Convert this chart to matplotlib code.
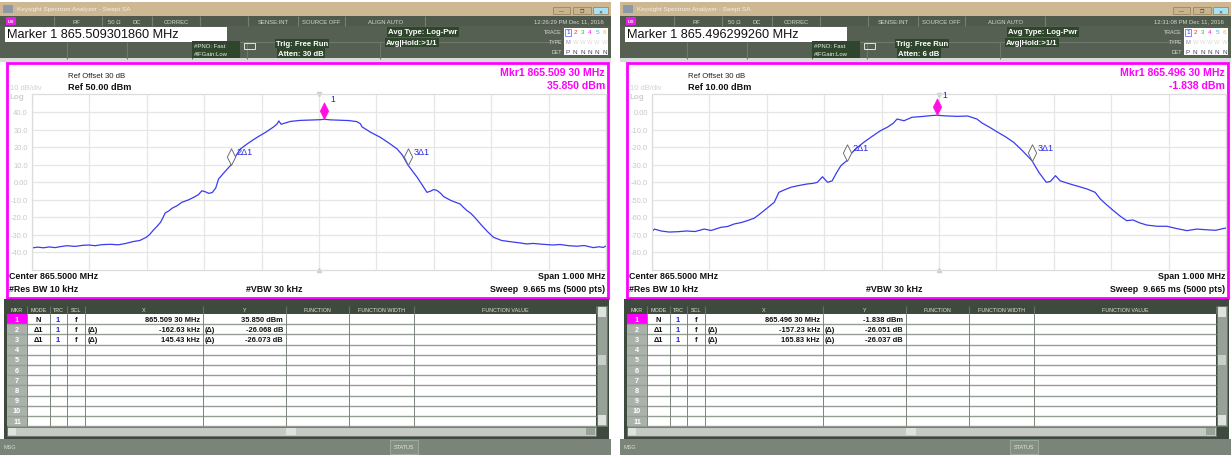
import matplotlib
matplotlib.use("Agg")
import matplotlib.pyplot as plt
from matplotlib.patches import Rectangle
from matplotlib.path import Path

plt.rcParams['font.family'] = ['Liberation Sans', 'DejaVu Sans']

W, H = 1231, 456

# trace 1 of each sweep: offset from center (kHz) and level (dBm)
left_khz = [-500, -490, -480, -470, -460, -450, -439, -425, -412, -401, -390, -378, -363, -350, -338,
            -323, -312, -301, -295, -288, -282, -276, -272, -268, -262, -256, -247, -239, -228, -218,
            -210, -204, -198, -192, -186, -180, -175, -165, -153.3, -145, -137, -122, -108, -93, -79,
            -73, -70, -66, -62, -50, -33, -15, 2, 9.3, 20, 37, 52, 66, 72, 75, 90, 107, 122, 136, 145,
            154.7, 163, 171, 180, 188, 194, 199, 204, 208, 212, 217, 230, 246, 252, 258, 264, 269, 276,
            284, 294, 304, 318, 333, 350, 362, 373, 390, 408, 420, 435, 449, 462, 478, 488, 495, 500]
left_dbm = [-37.7, -37.2, -37.6, -37.1, -37.5, -36.9, -36.4, -36.8, -36.2, -36.0, -36.4, -35.8, -35.6,
            -35.9, -35.2, -34.0, -33.4, -31.6, -30.0, -27.3, -25.3, -23.0, -20.5, -17.7, -16.6, -15.0,
            -13.5, -11.6, -10.3, -8.7, -7.2, -5.0, -5.6, -6.5, -6.0, -3.5, 1.7, 5.5, 9.78, 14.8, 18.9,
            22.5, 25.5, 28.4, 31.5, 33.2, 34.9, 33.0, 33.4, 34.6, 35.2, 35.4, 35.6, 35.85, 35.5, 35.3,
            35.1, 34.5, 33.3, 31.5, 28.4, 25.5, 22.2, 18.9, 15.5, 9.78, 6.2, 2.7, -1.8, -5.9, -5.3,
            -4.4, -4.6, -5.4, -6.5, -8.3, -10.6, -12.6, -14.6, -16.4, -17.8, -19.4, -22.0, -25.0,
            -28.5, -31.6, -33.4, -34.1, -34.8, -35.4, -35.1, -35.6, -36.0, -35.7, -36.4, -36.7,
            -36.3, -37.5, -37.0, -37.4, -36.6]

right_khz = [-500, -496, -484, -470, -455, -440, -425, -409, -397, -380, -368, -357, -345, -334, -322,
             -313, -305, -296, -287, -279, -270, -258, -244, -229, -220, -212, -203, -194, -186, -179,
             -171, -160.9, -154, -143, -131, -116, -102, -90, -80, -73, -61, -47, -30, -15, -3.7, 10,
             32, 50, 66, 75, 88, 101, 116, 130, 145, 162.1, 174, 187, 194, 203, 211, 223, 234, 246,
             258, 272, 281, 292, 304, 316, 327, 338, 350, 362, 380, 397, 414, 432, 449, 466, 482, 495, 500]
right_dbm = [-68.4, -66.9, -68.0, -68.6, -68.4, -68.0, -68.3, -66.9, -67.7, -65.9, -65.4, -64.0, -63.2,
             -62.1, -60.7, -58.5, -56.4, -54.0, -51.6, -45.9, -44.6, -43.0, -42.0, -41.1, -40.8, -40.2,
             -37.0, -40.2, -39.3, -35.0, -30.7, -27.889, -24.0, -20.5, -17.3, -13.8, -10.7, -8.7, -6.5,
             -4.0, -5.0, -3.0, -2.6, -2.1, -1.838, -2.2, -2.5, -2.3, -4.0, -6.3, -8.7, -11.3, -14.2,
             -17.3, -22.0, -27.875, -34.5, -40.2, -39.7, -36.4, -39.3, -40.6, -41.7, -42.8, -44.0,
             -45.9, -49.7, -53.0, -56.4, -59.6, -62.1, -61.7, -63.4, -64.6, -65.3, -65.3, -66.6,
             -67.8, -66.9, -67.3, -67.6, -66.6, -66.3]

traces_khz = [left_khz, right_khz]
traces_dbm = [left_dbm, right_dbm]

# instrument state for the two screens
ref_level = [50, 10]
atten = ["30 dB", "6 dB"]
clock = ["12:26:29 PM Dec 11, 2016", "12:31:08 PM Dec 11, 2016"]
marker_active = ["865.509301860", "865.496299260"]
mkr1_mhz = [865.50930, 865.49630]
mkr1_dbm = [35.850, -1.838]
delta_khz = [[-162.63, 145.43], [-157.23, 165.83]]
delta_db = [[-26.068, -26.073], [-26.051, -26.037]]
center_mhz = 865.5

fig = plt.figure(figsize=(W / 100, H / 100), dpi=100)
ui = fig.add_axes([0, 0, 1, 1])
ui.set_xlim(0, W)
ui.set_ylim(H, 0)
ui.axis('off')


def box(x, y, w, h, fc, ec="none", lw=0, z=1):
    ui.add_patch(Rectangle((x, y), w, h, facecolor=fc, edgecolor=ec, linewidth=lw, zorder=z))


def line(x1, y1, x2, y2, c, lw=0.8, z=2):
    ui.plot([x1, x2], [y1, y2], color=c, lw=lw, zorder=z, solid_capstyle='butt')


def txt(x, y, s, size=5, color="black", ha="left", weight="normal", z=3, **kw):
    ui.text(x, y, s, fontsize=size, color=color, ha=ha, va="center", fontweight=weight, zorder=z, **kw)


def mhz_text(v):
    s = "%.5f" % v
    return s[:-2] + " " + s[-2:]


# diamond with its lower tip on the data point
diamond = Path([(0, 0), (0.5, 1), (0, 2), (-0.5, 1), (0, 0)],
               [Path.MOVETO, Path.LINETO, Path.LINETO, Path.LINETO, Path.CLOSEPOLY])

dark_green = "#2f452c"


def draw_panel(i, x0):
    # window title bar
    box(x0, 3, 611, 14, "#cdb893")
    box(x0 + 3, 6, 10, 8, "#8d99a6")
    txt(x0 + 17, 10, "Keysight Spectrum Analyzer - Swept SA", 4.6, "#f5efe4")
    for bx, bw, c in [(553, 17, "#c9b48e"), (573, 18, "#c9b48e"), (593, 15, "#a6e2f2")]:
        box(x0 + bx, 8, bw, 7, c, "#9a8866", 0.6, z=2)
    txt(x0 + 561, 11.5, "—", 3.5, "#4a4030", "center")
    txt(x0 + 582, 11.5, "❐", 3.5, "#4a4030", "center")
    txt(x0 + 600, 11.5, "✕", 3.5, "#304050", "center")

    # status line
    box(x0, 17, 611, 10, "#4f5a4c")
    box(x0 + 6, 18, 10, 8, "#e81ee8")
    txt(x0 + 11, 22, "LXI", 3, "white", "center", "bold")
    for dx in [54, 102, 152, 200, 248, 298, 345, 425]:
        line(x0 + dx, 17, x0 + dx, 27, "#75806f")
    for dx, s in [(76, "RF"), (114, "50 Ω"), (137, "DC"), (176, "CORREC"), (273, "SENSE:INT"),
                  (321, "SOURCE OFF"), (385, "ALIGN AUTO")]:
        txt(x0 + dx, 22, s, 4.2, "#cfd6cc", "center")
    txt(x0 + 604, 22, clock[i], 4.2, "#cfd6cc", "right")

    # active marker and settings block
    box(x0, 27, 611, 33, "#555f52")
    for dx in [67, 127, 192, 247, 380]:
        line(x0 + dx, 43, x0 + dx, 60, "#6d776a")
    line(x0 + 230, 43, x0 + 560, 43, "#6d776a")
    box(x0 + 5, 28, 222, 15, "white", z=2)
    txt(x0 + 7, 35.5, "Marker 1 %s MHz" % marker_active[i], 9.2, "#111111")
    box(x0 + 192, 42, 48, 17, dark_green, z=2)
    txt(x0 + 194, 47, "#PNO: Fast", 4.3, "#e8eee6")
    txt(x0 + 194, 55, "#IFGain:Low", 4.3, "#e8eee6")
    box(x0 + 244, 44, 11, 6, "none", "#e0e6de", 0.7, z=2)
    bb = dict(boxstyle="square,pad=0.15", fc=dark_green, ec="none")
    txt(x0 + 276, 44.5, "Trig: Free Run", 5.6, "white", weight="bold", bbox=bb)
    txt(x0 + 278, 54, "Atten: %s" % atten[i], 5.6, "white", weight="bold", bbox=bb)
    txt(x0 + 388, 33, "Avg Type: Log-Pwr", 5.6, "white", weight="bold", bbox=bb)
    txt(x0 + 386, 43.5, "Avg|Hold:>1/1", 5.6, "white", weight="bold", bbox=bb)

    # trace / type / detector box
    box(x0 + 564, 29, 44, 27, "white", z=2)
    txt(x0 + 562, 33, "TRACE", 3.8, "#d6dcd4", "right")
    txt(x0 + 562, 42.5, "TYPE", 3.8, "#d6dcd4", "right")
    txt(x0 + 562, 52, "DET", 3.8, "#d6dcd4", "right")
    cols = ["#2c2cff", "#ff2c2c", "#22c022", "#e020e0", "#20c0e0", "#e8c020"]
    for k in range(6):
        txt(x0 + 568 + k * 7.3, 33, str(k + 1), 4.6, cols[k], "center")
        txt(x0 + 568 + k * 7.3, 42.5, "M" if k == 0 else "W", 4.2,
            "#9a8aa8" if k == 0 else "#dadada", "center")
        txt(x0 + 568 + k * 7.3, 52, "P" if k == 0 else "N", 4.6, "#4a4468", "center")
    box(x0 + 565, 29.5, 6, 7, "none", "#7070ff", 0.6, z=4)

    # display frame
    box(x0, 59, 611, 4, "#d9ddd9")
    box(x0 + 7, 64, 601, 235, "white", "#ff00ff", 2)

    ref = ref_level[i]
    txt(x0 + 68, 76, "Ref Offset 30 dB", 5.6, "#222222")
    txt(x0 + 68, 88, "Ref %.2f dBm" % ref, 6.6, "#111111", weight="bold")
    txt(x0 + 10, 89, "10 dB/div", 5.4, "#d0d0d0")
    txt(x0 + 10, 97.5, "Log", 5.8, "#d0d0d0", weight="bold")
    txt(x0 + 605, 73, "Mkr1 %s MHz" % mhz_text(mkr1_mhz[i]), 7.6, "#ff00ff", "right", "bold")
    txt(x0 + 605, 86, "%.3f dBm" % mkr1_dbm[i], 7.6, "#ff00ff", "right", "bold")

    txt(x0 + 9, 277, "Center %.4f MHz" % center_mhz, 6.4, "#111111", weight="bold")
    txt(x0 + 9, 290, "#Res BW 10 kHz", 6.4, "#111111", weight="bold")
    txt(x0 + 274, 290, "#VBW 30 kHz", 6.4, "#111111", "center", "bold")
    txt(x0 + 605, 277, "Span 1.000 MHz", 6.4, "#111111", "right", "bold")
    txt(x0 + 605, 290, "Sweep  9.665 ms (5000 pts)", 6.4, "#111111", "right", "bold")

    # graticule
    gx, gy, gw, gh = x0 + 32, 95.5, 574, 175
    ax = fig.add_axes([gx / W, 1 - (gy + gh) / H, gw / W, gh / H])
    ax.set_xlim(-500, 500)
    ax.set_ylim(ref - 100, ref)
    ax.set_xticks(range(-500, 501, 100))
    ax.set_xticklabels([])
    yt = list(range(ref - 90, ref, 10))
    ax.set_yticks(yt)
    ax.set_yticklabels(["0.00" if v == 0 else "%.1f" % v for v in yt])
    ax.tick_params(length=0, labelsize=5.4, labelcolor="#c8c8c8", pad=3)
    ax.grid(True, color="#e6e6e6", lw=0.9)
    for sp in ax.spines.values():
        sp.set_color("#dcdcdc")
        sp.set_linewidth(0.9)
    ax.plot([0], [ref], marker="v", ms=3, color="#d0d0d0", clip_on=False)
    ax.plot([0], [ref - 100], marker="^", ms=3, color="#d0d0d0", clip_on=False)
    ax.plot(traces_khz[i], traces_dbm[i], color="#3b3bf0", lw=0.9)

    # markers
    m1 = (mkr1_mhz[i] - center_mhz) * 1000
    ax.plot([m1], [mkr1_dbm[i]], marker=diamond, ms=24, mfc="#ff10e0", mec="#ff10e0",
            mew=0.5, clip_on=False, zorder=5)
    ax.annotate("1", (m1, mkr1_dbm[i]), xytext=(4, 13), textcoords="offset points",
                fontsize=6.2, color="#2020c8", zorder=6)
    for k in range(2):
        fx = m1 + delta_khz[i][k]
        fy = mkr1_dbm[i] + delta_db[i][k]
        ax.plot([fx], [fy], marker=diamond, ms=24, mfc="white", mec="#707070",
                mew=0.7, clip_on=False, zorder=5)
        ax.annotate("%dΔ1" % (k + 2), (fx, fy), xytext=(4, 8), textcoords="offset points",
                    fontsize=6.6, color="#2a2ae0", zorder=6)

    # marker table
    box(x0 + 4, 300, 605, 140, "#3f4a3f")
    cx = [7, 27, 50, 66.7, 85, 202.7, 286, 349.3, 414.3, 596]
    heads = ["MKR", "MODE", "TRC", "SCL", "X", "Y", "FUNCTION", "FUNCTION WIDTH", "FUNCTION VALUE"]
    for k in range(9):
        txt(x0 + (cx[k] + cx[k + 1]) / 2, 311, heads[k], 3.9, "#dfe6d2", "center")
        line(x0 + cx[k + 1], 307, x0 + cx[k + 1], 315, "#667064")
    rh = 10.2
    for r in range(11):
        y = 315 + r * rh
        box(x0 + 27, y, 569, rh, "white", z=1)
        box(x0 + 7, y, 20, rh, "#ff00ff" if r == 0 else "#aab2aa", z=1)
        txt(x0 + 17, y + rh / 2, str(r + 1), 5.2, "white", "center", "bold")
        line(x0 + 7, y + rh, x0 + 596, y + rh, "#949e94", 1.0)
    for k in range(1, 9):
        line(x0 + cx[k], 315, x0 + cx[k], 315 + 11 * rh, "#7b857b", 0.7)

    ys = [315 + rh / 2 + r * rh for r in range(3)]
    txt(x0 + 38, ys[0], "N", 5.4, "#111111", "center", "bold")
    txt(x0 + 58, ys[0], "1", 5.4, "#2020e0", "center", "bold")
    txt(x0 + 76, ys[0], "f", 5.4, "#111111", "center", "bold")
    txt(x0 + 200, ys[0], "%s MHz" % mhz_text(mkr1_mhz[i]), 5.4, "#111111", "right", "bold")
    txt(x0 + 283, ys[0], "%.3f dBm" % mkr1_dbm[i], 5.4, "#111111", "right", "bold")
    for k in range(2):
        y = ys[k + 1]
        txt(x0 + 38, y, "Δ1", 5.4, "#111111", "center", "bold")
        txt(x0 + 58, y, "1", 5.4, "#2020e0", "center", "bold")
        txt(x0 + 76, y, "f", 5.4, "#111111", "center", "bold")
        txt(x0 + 88, y, "(Δ)", 5.4, "#111111", weight="bold")
        txt(x0 + 200, y, "%.2f kHz" % delta_khz[i][k], 5.4, "#111111", "right", "bold")
        txt(x0 + 205, y, "(Δ)", 5.4, "#111111", weight="bold")
        txt(x0 + 283, y, "%.3f dB" % delta_db[i][k], 5.4, "#111111", "right", "bold")

    # scroll bars
    box(x0 + 7, 428, 589, 9, "#c5cac5", "#6a746a", 0.6)
    box(x0 + 8, 429, 8, 7, "#dfe3df", z=2)
    box(x0 + 286, 429, 10, 7, "#dfe3df", z=2)
    box(x0 + 586, 429, 9, 7, "#9aa39a", z=2)
    box(x0 + 597, 307, 10, 120, "#97a197", "#6a746a", 0.6)
    box(x0 + 598, 308, 8, 10, "#dfe3df", z=2)
    box(x0 + 598, 356, 8, 10, "#c8cec8", z=2)
    box(x0 + 598, 416, 8, 10, "#dfe3df", z=2)

    # message bar
    box(x0, 440, 611, 16, "#7a8478")
    txt(x0 + 3, 448, "MSG", 4.0, "#d8ddd6")
    box(x0 + 390, 441, 28, 14, "#848e82", "#9ea89c", 0.7, z=2)
    txt(x0 + 404, 448, "STATUS", 4.0, "#e0e5de", "center")


draw_panel(0, 0)
draw_panel(1, 620)

fig.savefig("out.png", dpi=100)
